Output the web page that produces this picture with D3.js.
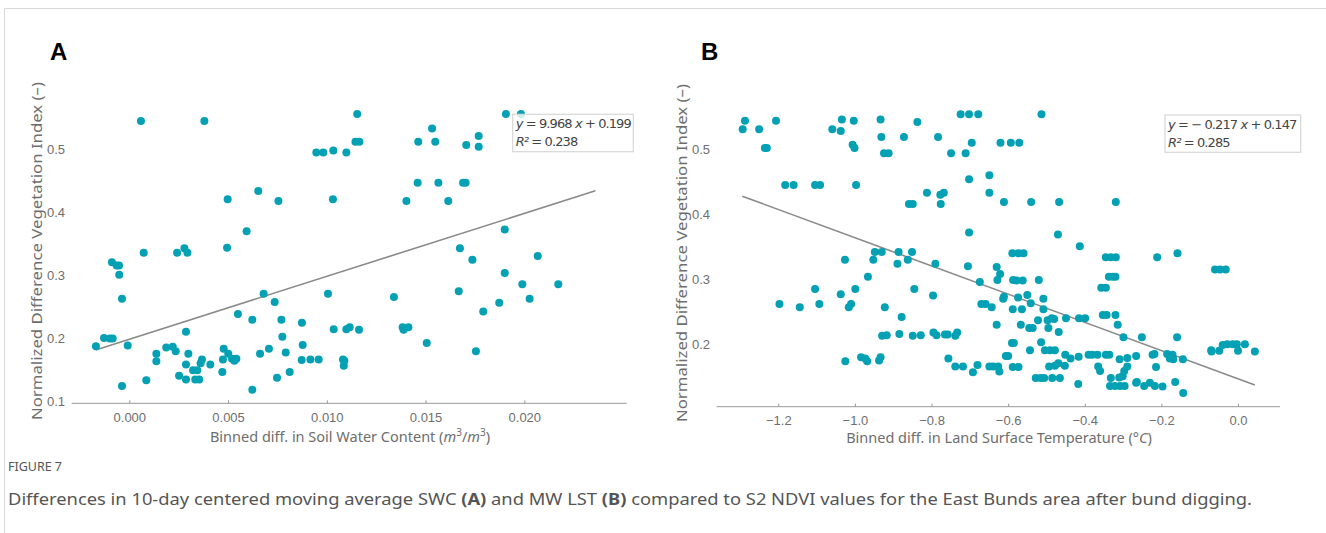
<!DOCTYPE html>
<html>
<head>
<meta charset="utf-8">
<title>Figure 7</title>
<script src="https://d3js.org/d3.v7.min.js"></script>
<style>
  body { margin: 0; background: #fff; }
  svg { font-family: "Noto Sans", sans-serif; }
  .tick text { fill: #6e6e6e; font-size: 13px; }
  .axislabel { fill: #6e6e6e; font-size: 14.5px; }
  .eq { font-family: "DejaVu Sans", sans-serif; fill: #444; font-size: 13px; letter-spacing: -0.9px; }
  .caption { fill: #555; }
</style>
</head>
<body>
<svg width="1326" height="533"></svg>
<script>
// panel A: binned diff. in soil water content vs NDVI
const swcX = [0.00059, 0.0038, 0.01154, 0.01907, 0.01983, 0.01533, 0.01463, 0.01549, 0.01165, 0.01145,
  0.00947, 0.00982, 0.01033, 0.01099, 0.01706, 0.01769, 0.01769, 0.0146, 0.01565, 0.01703, 0.0169,
  0.01403, 0.01615, 0.00653, 0.00498, 0.00755, 0.01031, 0.00594, 0.00495, 0.00073, 0.00242, 0.00279,
  0.00294, -0.00088, -0.00064, -0.00052, -0.00051, -0.00037, 0.01901, 0.01674, 0.01737, 0.02068,
  0.01901, 0.0199, 0.02172, 0.01668, 0.02027, 0.01873, 0.01792, 0.0134, 0.01006, 0.0068, 0.00736,
  0.0055, 0.00623, 0.0077, 0.00874, 0.01035, 0.01099, 0.01116, 0.01163, 0.01384, 0.01413, 0.01389,
  0.01506, 0.01755, -0.00169, -0.00128, -0.00098, -0.00084, -0.00008, 0.00287, 0.00187, 0.0022,
  0.00235, 0.00137, 0.00137, 0.00299, 0.00287, 0.00323, 0.00344, 0.00368, 0.00361, 0.0041, 0.00252,
  0.00287, 0.00334, 0.00354, 0.00086, -0.00037, 0.00478, 0.00501, 0.00474, 0.0052, 0.00532, 0.00542,
  0.00471, 0.00623, 0.00662, 0.00707, 0.00775, 0.00792, 0.00748, 0.00812, 0.00878, 0.00873, 0.00917,
  0.00959, 0.01082, 0.01089, 0.01086];
const swcNdvi = [0.545, 0.545, 0.556, 0.556, 0.556, 0.533, 0.512, 0.512, 0.512, 0.512,
  0.495, 0.495, 0.498, 0.495, 0.507, 0.521, 0.504, 0.447, 0.447, 0.447, 0.447,
  0.418, 0.418, 0.434, 0.421, 0.418, 0.421, 0.370, 0.344, 0.336, 0.336, 0.343,
  0.336, 0.321, 0.316, 0.316, 0.301, 0.263, 0.373, 0.343, 0.325, 0.331,
  0.304, 0.286, 0.286, 0.275, 0.263, 0.257, 0.243, 0.266, 0.271, 0.271, 0.258,
  0.239, 0.230, 0.230, 0.225, 0.215, 0.215, 0.218, 0.214, 0.218, 0.218, 0.214,
  0.193, 0.180, 0.188, 0.201, 0.200, 0.200, 0.189, 0.211, 0.186, 0.187,
  0.180, 0.176, 0.164, 0.176, 0.159, 0.150, 0.150, 0.167, 0.161, 0.159, 0.141,
  0.135, 0.135, 0.135, 0.134, 0.125, 0.184, 0.176, 0.167, 0.168, 0.165, 0.168,
  0.147, 0.119, 0.176, 0.184, 0.203, 0.178, 0.138, 0.147, 0.190, 0.166, 0.167,
  0.167, 0.167, 0.165, 0.157];

// panel B: binned diff. in land surface temperature vs NDVI
const lstX = [-1.293, -1.287, -1.250, -1.235, -1.230, -1.206, -1.059, -1.037, -1.034, -1.003, -1.006, -1.001,
  -0.933, -0.931, -0.924, -0.912, -0.872, -0.837, -0.783, -0.749, -0.711, -0.724, -0.702, -0.678, -0.695,
  -1.182, -1.160, -1.104, -1.091, -0.997, -0.702, -0.649, -0.649, -0.812, -0.777, -0.768, -0.776, -0.859,
  -0.849, -0.702, -1.026, -0.952, -0.948, -0.930, -0.886, -0.889, -0.862, -0.851, -0.790, -0.705, -0.674,
  -0.966, -1.104, -1.037, -0.999, -0.845, -0.796, -1.197, -1.144, -1.093, -1.016, -1.010, -0.922,
  -0.878, -0.670, -0.659, -0.929, -0.917, -0.884, -0.849, -0.828, -0.795, -0.787, -0.765, -0.758, -0.738,
  -0.733, -1.025, -0.984, -0.973, -0.968, -0.937, -0.933, -0.756, -0.738, -0.718, -0.692, -0.680, -0.649,
  -0.513, -0.620, -0.593, -0.571, -0.611, -0.540, -0.467, -0.319, -0.470, -0.413, -0.589, -0.573, -0.560,
  -0.345, -0.332, -0.319, -0.211, -0.158, -0.060, -0.047, -0.032, -0.630, -0.621, -0.628, -0.587, -0.578,
  -0.562, -0.520, -0.357, -0.345, -0.337, -0.327, -0.320, -0.643, -0.613, -0.611, -0.574, -0.550, -0.541,
  -0.508, -0.588, -0.564, -0.508, -0.630, -0.567, -0.545, -0.536, -0.522, -0.497, -0.486, -0.480, -0.495,
  -0.468, -0.449, -0.415, -0.399, -0.353, -0.343, -0.320, -0.314, -0.299, -0.251, -0.159, -0.590, -0.585,
  -0.514, -0.543, -0.504, -0.491, -0.478, -0.606, -0.600, -0.451, -0.437, -0.416, -0.390, -0.381, -0.367,
  -0.345, -0.336, -0.289, -0.266, -0.223, -0.218, -0.185, -0.171, -0.144, -0.070, -0.069, -0.049, -0.040,
  -0.028, -0.014, -0.003, 0.000, 0.018, 0.044, -0.639, -0.626, -0.623, -0.588, -0.573, -0.493, -0.478,
  -0.469, -0.452, -0.365, -0.360, -0.309, -0.289, -0.297, -0.332, -0.310, -0.301, -0.214, -0.169, -0.178,
  -0.528, -0.515, -0.506, -0.485, -0.465, -0.417, -0.334, -0.321, -0.308, -0.296, -0.266, -0.264, -0.245,
  -0.230, -0.217, -0.197, -0.164, -0.143];
const lstNdvi = [0.531, 0.544, 0.531, 0.502, 0.502, 0.544, 0.531, 0.528, 0.546, 0.544, 0.507, 0.502,
  0.546, 0.519, 0.494, 0.494, 0.519, 0.542, 0.519, 0.494, 0.494, 0.554, 0.554, 0.554, 0.510,
  0.445, 0.445, 0.445, 0.445, 0.445, 0.454, 0.460, 0.433, 0.433, 0.430, 0.433, 0.416, 0.416,
  0.416, 0.372, 0.330, 0.330, 0.342, 0.342, 0.342, 0.324, 0.330, 0.342, 0.324, 0.320, 0.296,
  0.304, 0.285, 0.277, 0.285, 0.285, 0.275, 0.262, 0.257, 0.262, 0.257, 0.262, 0.257,
  0.242, 0.262, 0.262, 0.213, 0.214, 0.216, 0.213, 0.214, 0.218, 0.214, 0.215, 0.215, 0.213,
  0.218, 0.174, 0.180, 0.178, 0.174, 0.175, 0.180, 0.178, 0.166, 0.166, 0.157, 0.168, 0.166,
  0.554, 0.510, 0.510, 0.510, 0.419, 0.419, 0.419, 0.419, 0.369, 0.351, 0.340, 0.340, 0.340,
  0.334, 0.334, 0.334, 0.334, 0.340, 0.315, 0.315, 0.315, 0.319, 0.308, 0.299, 0.299, 0.298,
  0.298, 0.299, 0.287, 0.287, 0.304, 0.304, 0.304, 0.257, 0.270, 0.273, 0.272, 0.276, 0.263,
  0.270, 0.254, 0.254, 0.254, 0.230, 0.230, 0.225, 0.225, 0.237, 0.237, 0.240, 0.239, 0.225,
  0.219, 0.240, 0.240, 0.240, 0.245, 0.245, 0.245, 0.230, 0.211, 0.211, 0.211, 0.202, 0.202,
  0.203, 0.191, 0.191, 0.191, 0.191, 0.182, 0.182, 0.184, 0.178, 0.181, 0.184, 0.184, 0.184,
  0.184, 0.184, 0.179, 0.182, 0.184, 0.185, 0.185, 0.184, 0.177, 0.191, 0.189, 0.190, 0.199,
  0.200, 0.200, 0.200, 0.190, 0.200, 0.189, 0.166, 0.166, 0.158, 0.165, 0.165, 0.166, 0.167,
  0.171, 0.167, 0.166, 0.159, 0.177, 0.166, 0.159, 0.148, 0.149, 0.151, 0.165, 0.177, 0.178,
  0.148, 0.148, 0.148, 0.148, 0.148, 0.139, 0.136, 0.136, 0.136, 0.136, 0.141, 0.142, 0.136,
  0.141, 0.136, 0.135, 0.142, 0.125];

// fits as printed on the figure
const fitA = { slope: 9.968, intercept: 0.199, r2: 0.238, from: -0.0017, to: 0.0236 };
const fitB = { slope: -0.217, intercept: 0.147, r2: 0.285, from: -1.294, to: 0.044 };

const ticksAx = [0, 0.005, 0.010, 0.015, 0.020];
const ticksAy = [0.1, 0.2, 0.3, 0.4, 0.5];
const ticksBx = [-1.2, -1.0, -0.8, -0.6, -0.4, -0.2, 0.0];
const ticksBy = [0.2, 0.3, 0.4, 0.5];

const dotColor = "#03a1b3";
const svg = d3.select("svg");

// thin frame of the figure box
svg.append("path").attr("d", "M4.5,533 V8.5 H1326").attr("fill", "none").attr("stroke", "#d9d9d9");

function panel(opt) {
  const g = svg.append("g");
  const x = d3.scaleLinear().domain(opt.xDom).range(opt.xRange);
  const y = d3.scaleLinear().domain(opt.yDom).range(opt.yRange);

  // bottom spine with small inward ticks
  const xa = g.append("g").attr("transform", `translate(0,${opt.axisY})`)
    .call(d3.axisBottom(x).tickValues(opt.xTicks).tickFormat(d3.format(opt.xFmt)).tickSize(-3).tickPadding(9));
  xa.select(".domain").attr("stroke", "#999").attr("d", `M${opt.axisX[0]},0H${opt.axisX[1]}`);
  xa.selectAll(".tick line").attr("stroke", "#999");

  // left axis: labels only
  const ya = g.append("g").attr("transform", `translate(${opt.yLabelX},0)`)
    .call(d3.axisLeft(y).tickValues(opt.yTicks).tickFormat(d3.format(".1f")).tickSize(0).tickPadding(0));
  ya.select(".domain").remove();

  g.append("text").attr("class", "axislabel")
    .attr("transform", `translate(${opt.ylabX},${opt.ylabY}) rotate(-90)`)
    .attr("text-anchor", "middle").attr("dy", "0.35em")
    .attr("font-size", 15.5).attr("textLength", 338).attr("lengthAdjust", "spacingAndGlyphs")
    .text("Normalized Difference Vegetation Index (–)");

  const xl = g.append("text").attr("class", "axislabel")
    .attr("x", opt.xlabX).attr("y", opt.xlabY).attr("text-anchor", "middle");
  opt.xlabel(xl);

  const f = opt.fit;
  g.append("line")
    .attr("x1", x(f.from)).attr("y1", y(f.slope * f.from + f.intercept))
    .attr("x2", x(f.to)).attr("y2", y(f.slope * f.to + f.intercept))
    .attr("stroke", "#8a8a8a").attr("stroke-width", 1.6);

  g.append("g").selectAll("circle")
    .data(d3.zip(opt.xs, opt.ys))
    .join("circle")
    .attr("cx", d => x(d[0])).attr("cy", d => y(d[1])).attr("r", 4)
    .attr("fill", dotColor);

  // equation box
  const b = opt.box;
  g.append("rect").attr("x", b[0]).attr("y", b[1]).attr("width", b[2]).attr("height", b[3])
    .attr("fill", "rgba(255,255,255,0.8)").attr("stroke", "#d6d6d6").attr("stroke-width", 1.2);
  const sign = f.intercept < 0 ? "−" : "+";
  const l1 = g.append("text").attr("class", "eq").attr("x", b[0] + 3).attr("y", b[1] + 14);
  l1.append("tspan").attr("font-style", "italic").text("y");
  l1.append("tspan").text(f.slope < 0 ? " =  − " + Math.abs(f.slope).toFixed(3) + " " : " = " + f.slope.toFixed(3) + " ");
  l1.append("tspan").attr("font-style", "italic").text("x");
  l1.append("tspan").text(" " + sign + " " + Math.abs(f.intercept).toFixed(3));
  const l2 = g.append("text").attr("class", "eq").attr("x", b[0] + 3).attr("y", b[1] + 32);
  l2.append("tspan").attr("font-style", "italic").text("R²");
  l2.append("tspan").text(" = " + f.r2.toFixed(3));

  svg.append("text").attr("x", opt.letter[0]).attr("y", opt.letter[1])
    .attr("font-family", "Liberation Sans, Arial, sans-serif").attr("font-weight", "bold")
    .attr("font-size", 24).attr("fill", "#000").text(opt.name);
}

panel({
  name: "A", letter: [50, 60],
  xs: swcX, ys: swcNdvi, fit: fitA,
  xDom: [0, 0.02], xRange: [129.3, 524.3], yDom: [0.1, 0.5], yRange: [401.7, 149.3],
  axisY: 403.3, axisX: [71.7, 626.7], xTicks: ticksAx, xFmt: ".3f",
  yTicks: ticksAy, yLabelX: 65,
  ylabX: 37, ylabY: 251, xlabX: 350, xlabY: 442,
  xlabel: t => {
    t.append("tspan").text("Binned diff. in Soil Water Content (");
    t.append("tspan").attr("font-style", "italic").text("m");
    t.append("tspan").attr("font-size", 10).attr("dy", -6).text("3");
    t.append("tspan").attr("dy", 6).text("/");
    t.append("tspan").attr("font-style", "italic").text("m");
    t.append("tspan").attr("font-size", 10).attr("dy", -6).text("3");
    t.append("tspan").attr("dy", 6).text(")");
  },
  box: [512.7, 114.3, 120.6, 37.4]
});

panel({
  name: "B", letter: [701, 60],
  xs: lstX, ys: lstNdvi, fit: fitB,
  xDom: [-1.2, 0], xRange: [778.3, 1238], yDom: [0.2, 0.5], yRange: [344.3, 149.3],
  axisY: 406.7, axisX: [716.7, 1280], xTicks: ticksBx, xFmt: ".1f",
  yTicks: ticksBy, yLabelX: 710,
  ylabX: 682, ylabY: 253, xlabX: 999, xlabY: 443,
  xlabel: t => {
    t.append("tspan").text("Binned diff. in Land Surface Temperature (°");
    t.append("tspan").attr("font-style", "italic").text("C");
    t.append("tspan").text(")");
  },
  box: [1165, 115, 135.7, 37.3]
});

// caption
svg.append("text").attr("class", "caption").attr("x", 8).attr("y", 471)
  .attr("font-size", 12).attr("textLength", 54).attr("lengthAdjust", "spacingAndGlyphs")
  .text("FIGURE 7");
const cap = svg.append("text").attr("class", "caption").attr("x", 8).attr("y", 505)
  .attr("font-size", 16).attr("textLength", 1244).attr("lengthAdjust", "spacingAndGlyphs");
cap.append("tspan").text("Differences in 10-day centered moving average SWC ");
cap.append("tspan").attr("font-weight", "bold").text("(A)");
cap.append("tspan").text(" and MW LST ");
cap.append("tspan").attr("font-weight", "bold").text("(B)");
cap.append("tspan").text(" compared to S2 NDVI values for the East Bunds area after bund digging.");
</script>
</body>
</html>
